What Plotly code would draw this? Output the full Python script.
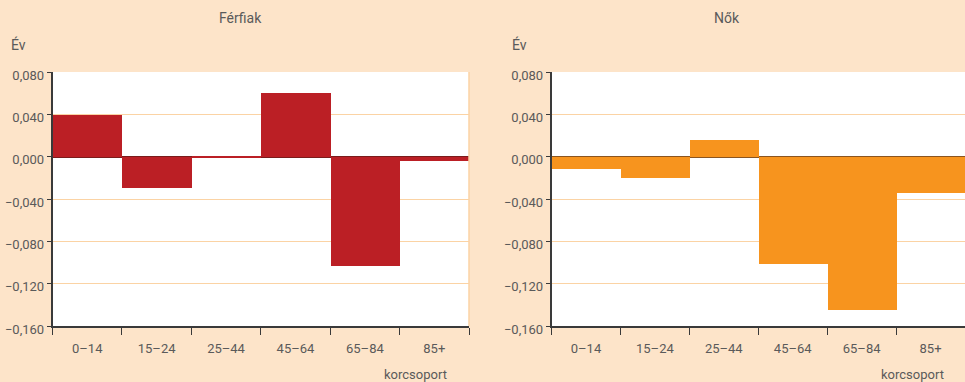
import plotly.graph_objects as go

# Age groups and changes (years) by sex
age_groups = ["0–14", "15–24", "25–44", "45–64", "65–84", "85+"]
men_values = [0.039, -0.030, -0.001, 0.060, -0.103, -0.004]
women_values = [-0.012, -0.020, 0.016, -0.101, -0.145, -0.034]
y_ticks = [0.08, 0.04, 0.0, -0.04, -0.08, -0.12, -0.16]

PAPER = "#FDE4C9"
GRID = "#FBD3A4"
AXIS = "#3a3a3a"
TEXT = "#5a5a5a"
FONT = "Roboto, sans-serif"

fig = go.Figure()
fig.add_trace(go.Bar(x=age_groups, y=men_values, marker=dict(color="#BB1F25", line=dict(width=0)),
                     xaxis="x", yaxis="y", showlegend=False))
fig.add_trace(go.Bar(x=age_groups, y=women_values, marker=dict(color="#F7941E", line=dict(width=0)),
                     xaxis="x2", yaxis="y2", showlegend=False))

xdom1 = [52.5 / 965, 469 / 965]
xdom2 = [551.5 / 965, 1.0]
ydom = [(382 - 326) / 382, (382 - 72) / 382]

xcommon = dict(type="category", tickson="boundaries", ticks="outside", ticklen=7, tickwidth=1.3,
               tickcolor=AXIS, showline=True, linecolor=AXIS, linewidth=1.5, showgrid=False,
               ticklabelstandoff=10, automargin=False,
               tickfont=dict(family=FONT, size=13, color=TEXT), fixedrange=True)
ycommon = dict(range=[-0.16, 0.08], tickvals=y_ticks, tickformat=".3f", ticks="outside", ticklen=4,
               tickwidth=1.3, tickcolor=AXIS, showline=True, linecolor=AXIS, linewidth=1.5,
               gridcolor=GRID, gridwidth=1, zeroline=True, zerolinewidth=2,
               ticklabelshift=3, automargin=False,
               tickfont=dict(family=FONT, size=13, color=TEXT), fixedrange=True)


def label(text, px, py, size=14):
    """Text placed by pixel centre on the 965x382 canvas."""
    return dict(text=text, x=px / 965, y=1 - py / 382, xref="paper", yref="paper",
                xanchor="center", yanchor="middle", showarrow=False,
                font=dict(family=FONT, size=size, color=TEXT))


fig.update_layout(
    width=965, height=382,
    margin=dict(l=0, r=0, t=0, b=0, autoexpand=False),
    paper_bgcolor=PAPER, plot_bgcolor="white",
    separators=",.",
    bargap=0,
    font=dict(family=FONT, color=TEXT),
    xaxis=dict(domain=xdom1, anchor="y", **xcommon),
    yaxis=dict(domain=ydom, anchor="x", zerolinecolor="#7A1C1C", **ycommon),
    xaxis2=dict(domain=xdom2, anchor="y2", **xcommon),
    yaxis2=dict(domain=ydom, anchor="x2", zerolinecolor="#8A5520", **ycommon),
    shapes=[dict(type="line", xref="x domain", yref="y domain", x0=1, x1=1, y0=0, y1=1,
                 line=dict(color=GRID, width=1.5))],
    annotations=[
        label("Férfiak", 240, 18),
        label("Nők", 727, 18),
        label("Év", 18, 44),
        label("Év", 519, 44),
        label("korcsoport", 415, 374, 13),
        label("korcsoport", 912, 374, 13),
    ],
)

fig.write_html("out.html")
